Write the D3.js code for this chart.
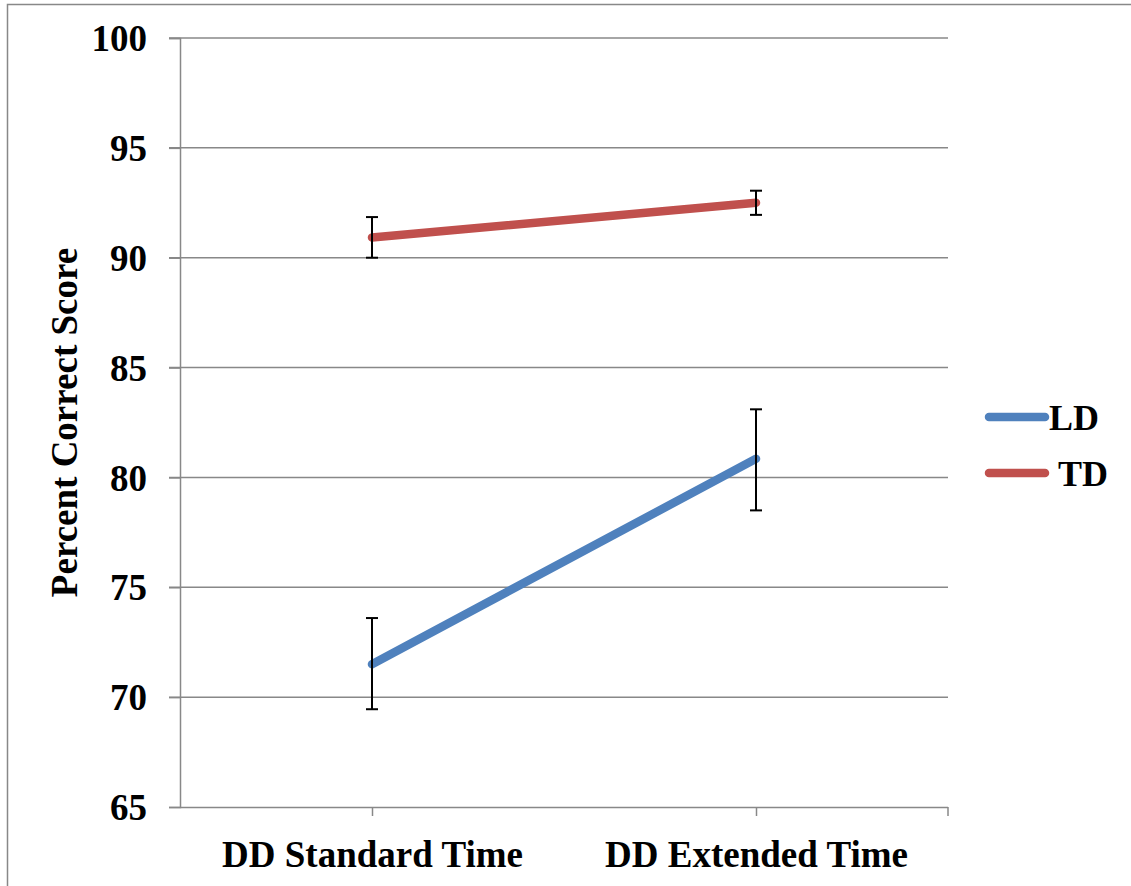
<!DOCTYPE html>
<html><head><meta charset="utf-8">
<script src="https://cdn.jsdelivr.net/npm/d3@7/dist/d3.min.js"></script>
<style>body{margin:0;background:#fff}svg{display:block}</style>
</head><body>
<script>
const categories = ["DD Standard Time", "DD Extended Time"];
const seriesNames = ["LD", "TD"];
const ldValues = [71.5, 80.85];
const ldErrLow = [69.45, 78.5];
const ldErrHigh = [73.6, 83.1];
const tdValues = [90.92, 92.5];
const tdErrLow = [90.0, 91.95];
const tdErrHigh = [91.85, 93.05];
const yTicks = [65, 70, 75, 80, 85, 90, 95, 100];
const colors = ["#4F81BD", "#C0504D"];

(function(){
const W = 1131, H = 886;
const svg = d3.select("body").append("svg").attr("width", W).attr("height", H);
const font = "'Liberation Serif','Times New Roman',serif";

// outer border
svg.append("path").attr("d", `M7.5,${H} L7.5,4.5 L${W},4.5`).attr("fill","none")
  .attr("stroke","#888").attr("stroke-width",1.5);

const pLeft = 180, pRight = 948, pTop = 38, pBottom = 807;
const y = d3.scaleLinear().domain([65, 100]).range([pBottom, pTop]);
const x = d3.scalePoint().domain(categories).range([pLeft, pRight]).padding(0.5);

// gridlines
svg.append("g").selectAll("line").data(yTicks.filter(d => d !== 65)).join("line")
  .attr("x1", 169).attr("x2", pRight).attr("y1", d => y(d)).attr("y2", d => y(d))
  .attr("stroke", "#888").attr("stroke-width", 1.5);

// y axis
const yAxis = svg.append("g").attr("transform", `translate(${pLeft},0)`)
  .call(d3.axisLeft(y).tickValues(yTicks).tickSize(11).tickPadding(22));
yAxis.select(".domain").attr("stroke","#888").attr("stroke-width",1.5);
yAxis.selectAll(".tick line").attr("stroke","#888").attr("stroke-width",1.5);
yAxis.selectAll(".tick text").attr("font-family", font).attr("font-weight","bold")
  .attr("font-size", 37).attr("fill","#000").attr("dy","0.34em");

// x axis
const xAxis = svg.append("g").attr("transform", `translate(0,${pBottom})`)
  .call(d3.axisBottom(x).tickSize(9).tickPadding(16).tickSizeOuter(0));
xAxis.select(".domain").attr("d", `M${pLeft},0.5H${pRight}`).attr("stroke","#888").attr("stroke-width",1.5);
xAxis.selectAll(".tick line").attr("stroke","#888").attr("stroke-width",1.5);
xAxis.selectAll(".tick text").attr("font-family", font).attr("font-weight","bold")
  .attr("font-size", 37).attr("fill","#000").attr("dy","0.95em");
xAxis.append("line").attr("x1", pRight).attr("x2", pRight).attr("y1", 0).attr("y2", 9)
  .attr("stroke","#888").attr("stroke-width",1.5);

// y title
svg.append("text").attr("transform", `translate(77,${(247+598)/2}) rotate(-90)`)
  .attr("text-anchor","middle").attr("font-family", font).attr("font-weight","bold")
  .attr("font-size", 37).attr("fill","#000").text("Percent Correct Score");

const series = [
  {name: seriesNames[0], vals: ldValues, lo: ldErrLow, hi: ldErrHigh, color: colors[0]},
  {name: seriesNames[1], vals: tdValues, lo: tdErrLow, hi: tdErrHigh, color: colors[1]}
];

const line = d3.line().x((d,i) => x(categories[i])).y(d => y(d));
series.forEach(s => {
  svg.append("path").attr("d", line(s.vals)).attr("fill","none").attr("stroke", s.color)
    .attr("stroke-width", 8.5).attr("stroke-linecap","round");
  const g = svg.append("g");
  s.vals.forEach((v,i) => {
    const cx = x(categories[i]);
    g.append("line").attr("x1",cx).attr("x2",cx).attr("y1",y(s.lo[i])).attr("y2",y(s.hi[i]))
      .attr("stroke","#000").attr("stroke-width",2);
    [s.lo[i], s.hi[i]].forEach(e => g.append("line").attr("x1",cx-6).attr("x2",cx+6)
      .attr("y1",y(e)).attr("y2",y(e)).attr("stroke","#000").attr("stroke-width",2));
  });
});

// legend
const legY = [417, 473];
const legTextX = [1049, 1058];
series.forEach((s,i) => {
  svg.append("line").attr("x1", 989).attr("x2", 1045).attr("y1", legY[i]).attr("y2", legY[i])
    .attr("stroke", s.color).attr("stroke-width", 8.5).attr("stroke-linecap","round");
  svg.append("text").attr("x", legTextX[i]).attr("y", legY[i]).attr("dy","0.35em")
    .attr("font-family", font).attr("font-weight","bold").attr("font-size", 36)
    .attr("fill","#000").text(s.name);
});
})();
</script>
</body></html>
